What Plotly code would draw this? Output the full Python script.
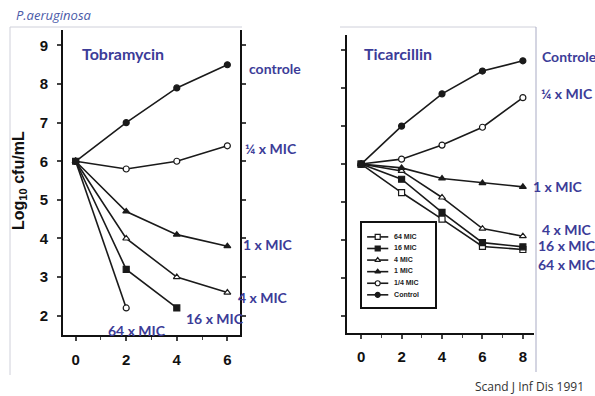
import plotly.graph_objects as go

# ---- data ----
tob_x = [0, 2, 4, 6]
tob_control = [6.0, 7.0, 7.9, 8.5]
tob_quarter = [6.0, 5.8, 6.0, 6.4]
tob_1mic = [6.0, 4.7, 4.1, 3.8]
tob_4mic = [6.0, 4.0, 3.0, 2.6]
tob_16x = [0, 2, 4]
tob_16mic = [6.0, 3.2, 2.2]
tob_64x = [0, 2]
tob_64mic = [6.0, 2.2]

tic_x = [0, 2, 4, 6, 8]
tic_control = [6.0, 7.0, 7.85, 8.45, 8.72]
tic_quarter = [6.0, 6.13, 6.5, 6.97, 7.75]
tic_1mic = [6.0, 5.9, 5.62, 5.5, 5.4]
tic_4mic = [6.0, 5.82, 5.12, 4.3, 4.1]
tic_16mic = [6.0, 5.6, 4.73, 3.93, 3.82]
tic_64mic = [6.0, 5.25, 4.55, 3.83, 3.75]

legend_names = ["64 MIC", "16 MIC", "4 MIC", "1 MIC", "1/4 MIC", "Control"]
legend_symbols = ["square-open", "square", "triangle-up-open", "triangle-up",
                  "circle-open", "circle"]

left_ticks_x = [0, 2, 4, 6]
right_ticks_x = [0, 2, 4, 6, 8]
y_ticks = [2, 3, 4, 5, 6, 7, 8, 9]

W, H = 595, 396
BLUE = "#3c3c98"
LINE = "#1a1a1a"


def px(x):
    return x / W


def py(y):
    return 1 - y / H


fig = go.Figure()


def marker_style(symbol, size=6):
    fill = "white" if "open" in symbol else LINE
    return dict(symbol=symbol.replace("-open", ""), size=size, color=fill,
                line=dict(color=LINE, width=1.2))


def add(xa, ya, x, y, symbol, name):
    fig.add_trace(go.Scatter(
        x=x, y=y, mode="lines+markers", name=name, showlegend=False,
        xaxis=xa, yaxis=ya,
        line=dict(color=LINE, width=1.6),
        marker=marker_style(symbol),
        cliponaxis=False,
    ))


# left panel (Tobramycin)
add("x", "y", tob_64x, tob_64mic, "circle-open", "64 MIC")
add("x", "y", tob_16x, tob_16mic, "square", "16 MIC")
add("x", "y", tob_x, tob_4mic, "triangle-up-open", "4 MIC")
add("x", "y", tob_x, tob_1mic, "triangle-up", "1 MIC")
add("x", "y", tob_x, tob_quarter, "circle-open", "1/4 MIC")
add("x", "y", tob_x, tob_control, "circle", "Control")

# right panel (Ticarcillin)
add("x2", "y2", tic_x, tic_64mic, "square-open", "64 MIC")
add("x2", "y2", tic_x, tic_16mic, "square", "16 MIC")
add("x2", "y2", tic_x, tic_4mic, "triangle-up-open", "4 MIC")
add("x2", "y2", tic_x, tic_1mic, "triangle-up", "1 MIC")
add("x2", "y2", tic_x, tic_quarter, "circle-open", "1/4 MIC")
add("x2", "y2", tic_x, tic_control, "circle", "Control")

# boxed key of the right panel, drawn on its own small axes (one row per entry)
for row, (name, sym) in enumerate(zip(legend_names, legend_symbols)):
    fig.add_trace(go.Scatter(
        x=[0.07, 0.36], y=[row, row], mode="lines", showlegend=False,
        xaxis="x3", yaxis="y3", line=dict(color=LINE, width=1.6), hoverinfo="skip",
    ))
    fig.add_trace(go.Scatter(
        x=[0.215], y=[row], mode="markers", showlegend=False,
        xaxis="x3", yaxis="y3", marker=marker_style(sym, 5), hoverinfo="skip",
    ))
    fig.add_trace(go.Scatter(
        x=[0.44], y=[row], mode="text", text=[name], textposition="middle right",
        showlegend=False, xaxis="x3", yaxis="y3", hoverinfo="skip",
        textfont=dict(family="Liberation Sans", size=7, color="#222", weight="bold"),
    ))

tickfont = dict(family="Liberation Sans", size=15, color="#111", weight="bold")

fig.update_layout(
    width=W, height=H,
    margin=dict(l=0, r=0, t=0, b=0),
    paper_bgcolor="white", plot_bgcolor="white",
    showlegend=False,
    xaxis=dict(
        domain=[px(63), px(240)], range=[-0.5, 6.5], anchor="y",
        tickvals=left_ticks_x, ticks="outside", ticklen=4, tickwidth=1.5,
        minor=dict(dtick=1, ticks="outside", ticklen=3, tickwidth=1.2),
        showline=True, linecolor="#111", linewidth=2, showgrid=False, zeroline=False,
        tickfont=tickfont, ticklabelstandoff=6,
    ),
    yaxis=dict(
        domain=[py(335), py(30)], range=[1.5, 9.4], anchor="x",
        tickvals=y_ticks, ticks="outside", ticklen=4, tickwidth=1.5,
        showline=True, linecolor="#111", linewidth=2, mirror="ticks",
        showgrid=False, zeroline=False, tickfont=tickfont, ticklabelstandoff=6,
    ),
    xaxis2=dict(
        domain=[px(347), px(534)], range=[-0.7, 8.55], anchor="y2",
        tickvals=right_ticks_x, ticks="outside", ticklen=4, tickwidth=1.5,
        minor=dict(dtick=1, ticks="outside", ticklen=3, tickwidth=1.2),
        showline=True, linecolor="#111", linewidth=2, showgrid=False, zeroline=False,
        tickfont=tickfont, ticklabelstandoff=5,
    ),
    yaxis2=dict(
        domain=[py(333), py(35)], range=[1.55, 9.4], anchor="x2",
        tickvals=y_ticks, showticklabels=False, ticks="outside", ticklen=4, tickwidth=1.5,
        showline=True, linecolor="#111", linewidth=2,
        showgrid=False, zeroline=False,
    ),
    xaxis3=dict(
        domain=[px(362), px(435)], range=[0, 1], anchor="y3",
        showline=True, mirror=True, linecolor="#111", linewidth=1.5,
        showticklabels=False, ticks="", showgrid=False, zeroline=False, fixedrange=True,
    ),
    yaxis3=dict(
        domain=[py(307), py(223)], range=[6.05, -1.2], anchor="x3",
        showline=True, mirror=True, linecolor="#111", linewidth=1.5,
        showticklabels=False, ticks="", showgrid=False, zeroline=False, fixedrange=True,
    ),
)

# image-frame lines (faint)
frame = dict(type="line", xref="paper", yref="paper", line=dict(color="#cfd0da", width=1))
fig.add_shape(**frame, x0=px(10), x1=px(242), y0=py(27), y1=py(27))
fig.add_shape(**frame, x0=px(10), x1=px(10), y0=py(27), y1=py(375))
fig.add_shape(**frame, x0=px(340), x1=px(536), y0=py(27), y1=py(27))
fig.add_shape(**dict(frame, line=dict(color="#a9abc4", width=1)),
              x0=px(536), x1=px(536), y0=py(27), y1=py(372))

labels = [
    ("Tobramycin", 80, 53, 16),
    ("controle", 247, 68, 14),
    ("¼ x MIC", 243, 148, 14),
    ("1 x MIC", 241, 244, 14),
    ("4 x MIC", 236, 297, 14),
    ("16 x MIC", 184, 318, 14),
    ("64 x MIC", 106, 330, 14),
    ("Ticarcillin", 362, 53, 16),
    ("Controle", 540, 57, 14),
    ("¼ x MIC", 539, 93, 14),
    ("1 x MIC", 531, 186, 14),
    ("4 x MIC", 540, 229, 14),
    ("16 x MIC", 536, 245, 14),
    ("64 x MIC", 536, 264, 14),
]
for text, x, y, size in labels:
    fig.add_annotation(
        text=text, xref="paper", yref="paper", x=px(x), y=py(y),
        xanchor="left", yanchor="middle", showarrow=False,
        font=dict(family="Lato", size=size, color=BLUE, weight="bold"),
    )

fig.add_annotation(
    text="Log<sub>10</sub> cfu/mL", xref="paper", yref="paper",
    x=px(19), y=py(181), textangle=-90, showarrow=False,
    xanchor="center", yanchor="middle",
    font=dict(family="Liberation Sans", size=16, color="#111", weight="bold"),
)
fig.add_annotation(
    text="<i>P.aeruginosa</i>", xref="paper", yref="paper",
    x=px(14), y=py(15), xanchor="left", yanchor="middle", showarrow=False,
    font=dict(family="Open Sans", size=13, color="#4a5aa8"),
)
fig.add_annotation(
    text="Scand J Inf Dis 1991", xref="paper", yref="paper",
    x=px(586), y=py(386), xanchor="right", yanchor="middle", showarrow=False,
    font=dict(family="Open Sans", size=12, color="#333"),
)

fig.write_html("out.html", config={"displayModeBar": False},
               post_script="document.body.style.margin='0';")
